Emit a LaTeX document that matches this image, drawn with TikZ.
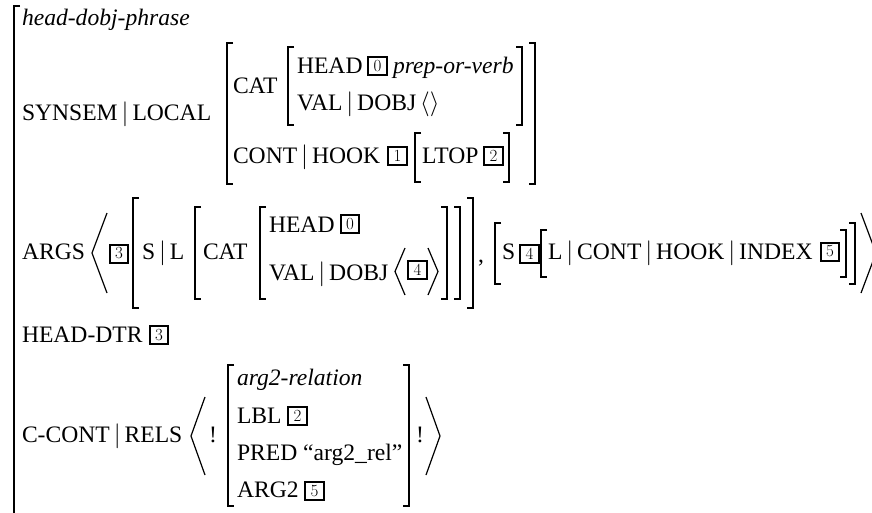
\documentclass[tikz,border=0pt]{standalone}
\usepackage{fontspec}
\setmainfont{Liberation Serif}
\newfontfamily\tagfont{Latin Modern Roman}
\begin{document}
\begin{tikzpicture}[x=1pt,y=-1pt,
  font=\fontsize{23.6}{28}\selectfont,
  txt/.style={anchor=base west, inner sep=0pt, outer sep=0pt},
  tagbox/.style={draw, line width=2pt, inner sep=0pt, minimum width=18.5pt, minimum height=18pt,
     font=\tagfont\fontsize{17}{17}\selectfont},
  brk/.style={line width=1.2pt},
  ang/.style={line width=1.2pt, line join=miter}]
\useasboundingbox (0,0) rectangle (872,512);
\clip (0,0) rectangle (872,512);
\tikzset{
  lb/.pic={\draw[brk] (6,0) -- (0,0) -- (0,\pgfkeysvalueof{/tikz/bh}) -- (6,\pgfkeysvalueof{/tikz/bh});},
  rb/.pic={\draw[brk] (-6,0) -- (0,0) -- (0,\pgfkeysvalueof{/tikz/bh}) -- (-6,\pgfkeysvalueof{/tikz/bh});},
  bh/.initial=10}

% outer bracket
\draw[brk] (20,6) -- (14,6) -- (14,530);
\node[txt] (type) at (22,25) {\itshape head-dobj-phrase};

% SYNSEM | LOCAL
\node[txt] (synsem) at (22,120) {SYNSEM\,$|$\,LOCAL};
\pic at (227,43) [bh=141] {lb};
\pic at (535,43) [bh=141] {rb};
\node[txt] (cat) at (233,93) {CAT};
\pic at (288,47) [bh=78] {lb};
\pic at (522,47) [bh=78] {rb};
\node[txt] (head1) at (297,73) {HEAD};
\node[tagbox] (t0a) at (377.5,66) {0};
\node[txt] (pov) at (393,73) {\itshape prep-or-verb};
\node[txt] (val1) at (297,110) {VAL\,$|$\,DOBJ\,$\langle\rangle$};
\node[txt] (cont) at (233,163) {CONT\,$|$\,HOOK};
\node[tagbox] (t1) at (397.5,156) {1};
\pic at (415,133) [bh=49] {lb};
\node[txt] (ltop) at (422,163) {LTOP};
\node[tagbox] (t2a) at (493.5,156) {2};
\pic at (509,133) [bh=49] {rb};

% ARGS
\node[txt] (args) at (22,259) {ARGS};
\draw[ang] (107,213) -- (92,253) -- (107,293);
\node[tagbox] (t3a) at (119,253.5) {3};
\pic at (133,198) [bh=110] {lb};
\pic at (473,198) [bh=110] {rb};
\node[txt] (sl) at (142,259) {S\,$|$\,L};
\pic at (195,207) [bh=92] {lb};
\pic at (460,207) [bh=92] {rb};
\node[txt] (cat2) at (203,259) {CAT};
\pic at (260,207) [bh=92] {lb};
\pic at (447,207) [bh=92] {rb};
\node[txt] (head2) at (269,232) {HEAD};
\node[tagbox] (t0b) at (350,224) {0};
\node[txt] (val2) at (269,280) {VAL\,$|$\,DOBJ};
\draw[ang] (405,248) -- (395,271.5) -- (405,295);
\node[tagbox] (t4a) at (417.5,270) {4};
\draw[ang] (428,248) -- (438,271.5) -- (428,295);
\node[txt] (comma) at (478,262) {,};
\pic at (495,223) [bh=61] {lb};
\pic at (855,223) [bh=61] {rb};
\node[txt] (s2) at (502,259) {S};
\node[tagbox] (t4b) at (529.5,254) {4};
\pic at (541,230) [bh=47] {lb};
\pic at (846,230) [bh=47] {rb};
\node[txt] (lcont) at (548,259) {L\,$|$\,CONT\,$|$\,HOOK\,$|$\,INDEX};
\node[tagbox] (t5a) at (830,251.5) {5};
\draw[ang] (861,213) -- (876,253) -- (861,293);

% HEAD-DTR
\node[txt] (hdtr) at (22,342) {HEAD-DTR};
\node[tagbox] (t3b) at (159,335) {3};

% C-CONT
\node[txt] (ccont) at (22,442) {C-CONT\,$|$\,RELS};
\draw[ang] (205,397) -- (191,436) -- (205,475);
\node[txt] (bang1) at (209,442) {!};
\pic at (228,365) [bh=141] {lb};
\pic at (409,365) [bh=141] {rb};
\node[txt] (a2r) at (237,385) {\itshape arg2-relation};
\node[txt] (lbl) at (237,423) {LBL};
\node[tagbox] (t2b) at (297.5,416) {2};
\node[txt] (pred) at (237,460) {PRED ``arg2\_rel''};
\node[txt] (arg2) at (237,497) {ARG2};
\node[tagbox] (t5b) at (314.5,491) {5};
\node[txt] (bang2) at (416,442) {!};
\draw[ang] (426,397) -- (440,436) -- (426,475);
\end{tikzpicture}
\end{document}
